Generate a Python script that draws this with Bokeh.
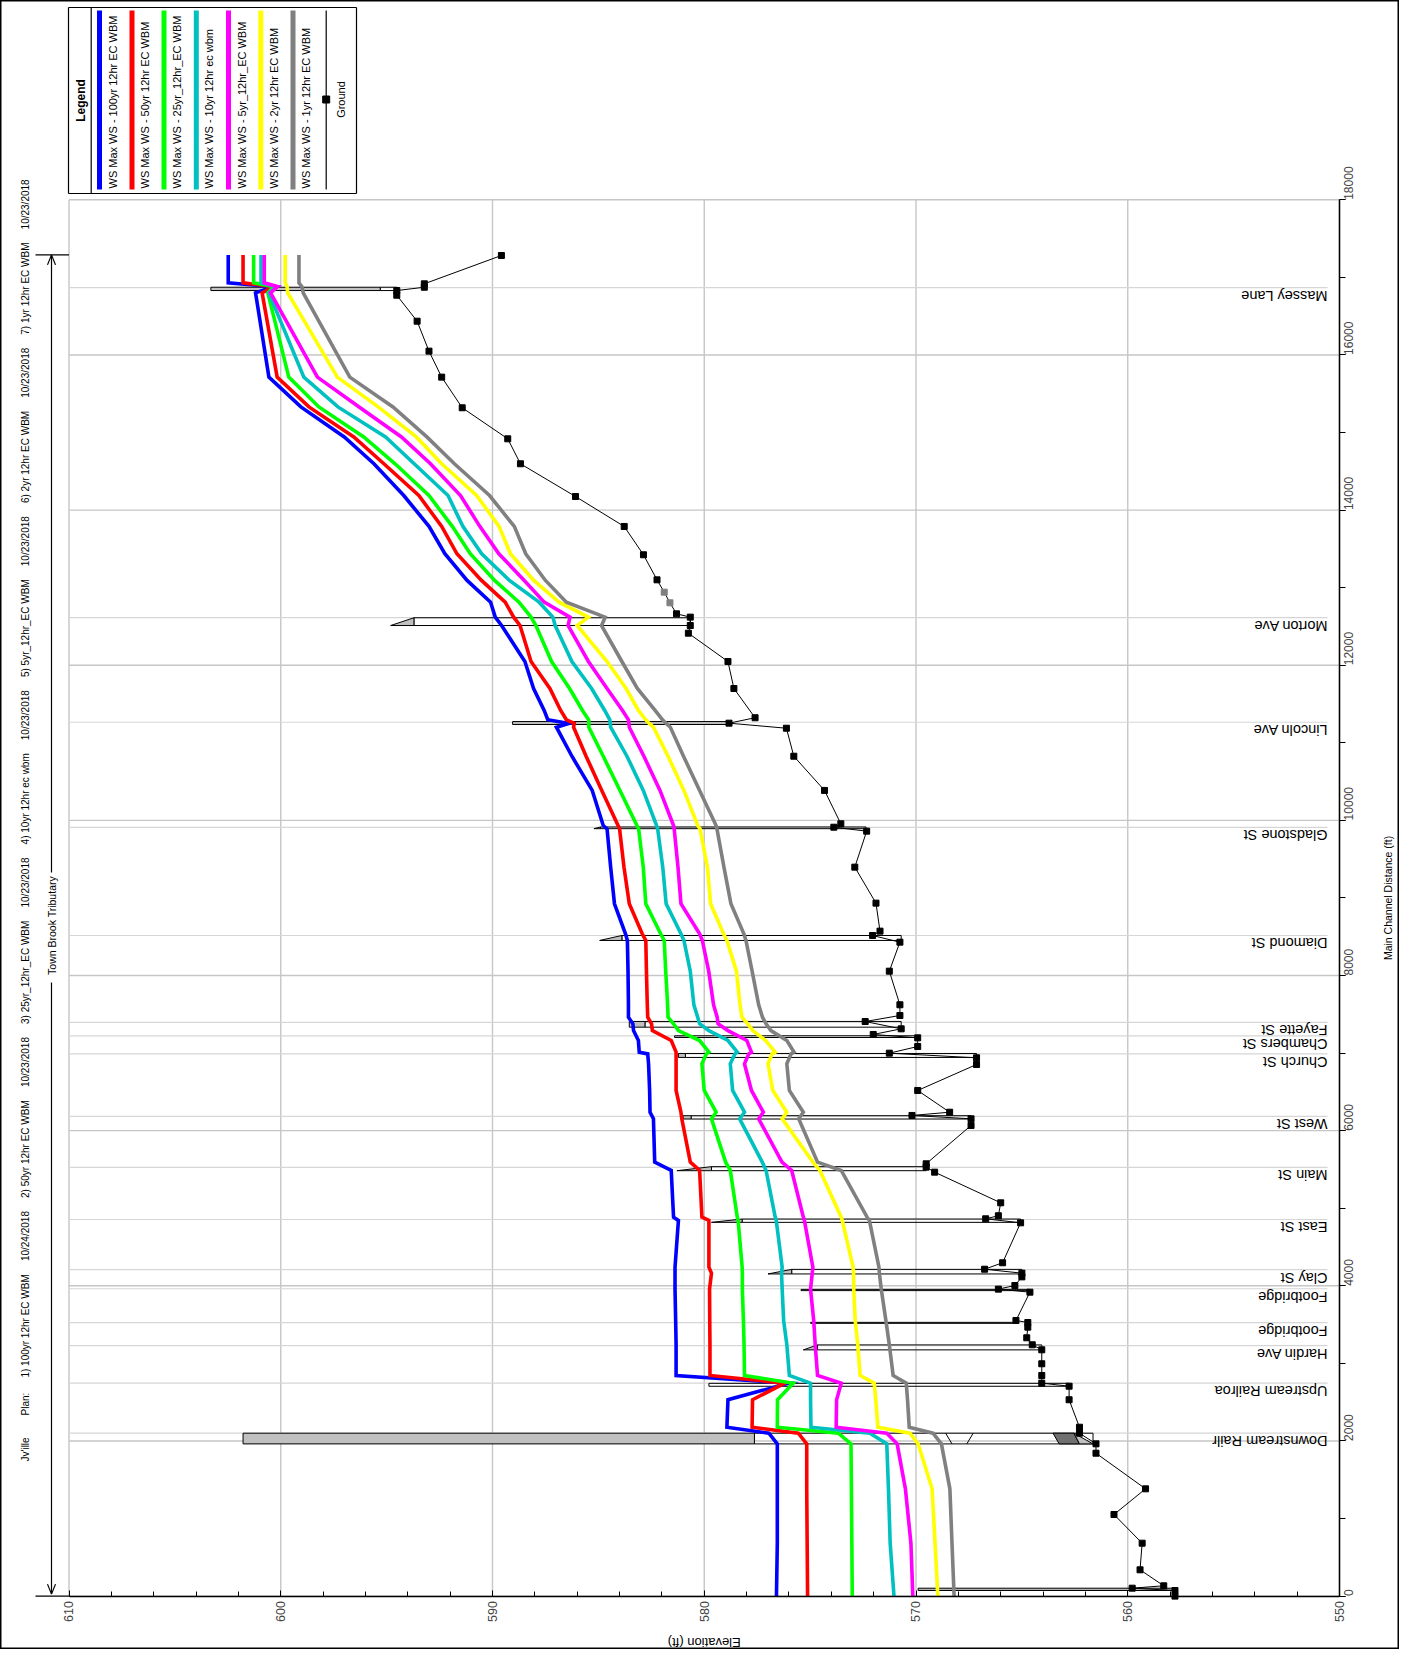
import math
from bokeh.plotting import figure
from bokeh.models import Range1d, FixedTicker, LinearAxis
from bokeh.core.properties import value
from bokeh.embed import file_html
from bokeh.resources import INLINE

FONT = "Liberation Sans"

# ---------------- data ----------------
profile_labels = ["WS  Max WS - 100yr 12hr EC WBM", "WS  Max WS - 50yr 12hr EC WBM",
                  "WS  Max WS - 25yr_12hr_EC WBM", "WS  Max WS - 10yr 12hr ec wbm",
                  "WS  Max WS - 5yr_12hr_EC WBM", "WS  Max WS - 2yr 12hr EC WBM",
                  "WS  Max WS - 1yr 12hr EC WBM"]
profile_colors = ["#0000ff", "#ff0000", "#00ff00", "#00c0c0", "#ff00ff", "#ffff00", "#808080"]

ws_station = [17290, 16930, 16880, 16800, 15714, 15330, 14943, 14597, 14188, 13790, 13437, 13093,
              12813, 12620, 12512, 12048, 11700, 11417, 11297, 11250, 11201, 10827, 10386, 9934,
              9891, 9397, 8925, 8538, 8452, 8056, 7623, 7463, 7378, 7290, 7162, 7012, 6990, 6862,
              6518, 6238, 6153, 5594, 5487, 4885, 4842, 4240, 4163, 3957, 3550, 3240, 2844, 2745,
              2531, 2177, 2100, 1963, 1383, 682, 0]
ws_100yr = [602.48, 602.48, 600.35, 601.19, 600.56, 599.05, 597.00, 595.60, 594.19, 593.00, 592.25, 591.20,
            590.09, 589.87, 589.57, 588.47, 588.06, 587.56, 587.39, 586.40, 586.98, 586.25, 585.29, 584.77,
            584.59, 584.42, 584.24, 583.72, 583.63, 583.60, 583.58, 583.58, 583.37, 583.34, 583.11, 583.07, 582.67, 582.63,
            582.58, 582.56, 582.40, 582.34, 581.56, 581.45, 581.22, 581.38, 581.38, 581.38, 581.35, 581.33, 581.33, 576.00,
            578.88, 578.93, 576.95, 576.55, 576.55, 576.55, 576.59]
ws_50yr = [601.78, 601.78, 600.35, 600.88, 600.17, 598.67, 596.55, 595.13, 593.48, 592.40, 591.68, 590.52,
           589.40, 589.00, 588.70, 588.18, 587.29, 586.78, 586.51, 586.14, 586.17, 585.58, 584.84, 584.07,
           584.00, 583.79, 583.54, 582.93, 582.76, 582.73, 582.69, 582.67, 582.49, 582.45, 581.56, 581.33, 581.33, 581.33,
           581.33, 581.10, 581.06, 580.66, 580.22, 580.11, 579.78, 579.78, 579.66, 579.75, 579.74, 579.73, 579.73, 576.20,
           577.72, 577.74, 575.56, 575.16, 575.16, 575.14, 575.12]
ws_25yr = [601.28, 601.28, 600.30, 600.61, 599.62, 598.20, 596.08, 594.60, 593.00, 591.90, 591.05, 589.90,
           588.75, 588.18, 587.95, 587.21, 586.36, 585.75, 585.46, 585.45, 585.45, 584.77, 583.98, 583.18,
           583.10, 582.88, 582.76, 582.06, 581.89, 581.82, 581.73, 581.71, 581.45, 581.22, 580.22, 579.78, 579.90, 580.11,
           580.00, 579.44, 579.66, 578.99, 578.77, 578.44, 578.40, 578.21, 578.20, 578.20, 578.15, 578.12, 578.10, 575.80,
           576.54, 576.55, 573.67, 573.07, 573.05, 573.03, 573.01]
ws_10yr = [600.93, 600.93, 600.20, 600.56, 598.91, 597.30, 595.05, 593.70, 592.10, 591.40, 590.51, 589.20,
           587.80, 587.15, 587.04, 586.25, 585.32, 584.70, 584.46, 584.44, 584.42, 583.65, 582.88, 582.25,
           582.20, 581.96, 581.80, 581.10, 580.96, 580.66, 580.49, 580.31, 580.22, 579.78, 578.88, 578.44, 578.55, 578.77,
           578.66, 578.10, 578.33, 577.26, 577.08, 576.65, 576.60, 576.32, 576.35, 576.32, 576.25, 576.10, 575.98, 574.98,
           574.98, 574.96, 572.18, 571.38, 571.30, 571.22, 571.04]
ws_5yr = [600.78, 600.78, 600.15, 600.48, 598.27, 596.30, 594.30, 592.93, 591.51, 590.60, 589.70, 588.50,
          587.56, 586.34, 586.43, 585.47, 584.59, 583.86, 583.58, 583.56, 583.54, 582.85, 582.09, 581.45,
          581.42, 581.24, 581.10, 580.22, 580.09, 579.79, 579.56, 579.39, 579.35, 578.88, 577.99, 577.77, 577.90, 578.10,
          577.77, 577.21, 577.43, 576.33, 575.87, 575.32, 575.27, 574.87, 574.90, 574.98, 574.83, 574.76, 574.65, 573.53,
          573.75, 573.77, 571.38, 570.89, 570.50, 570.24, 570.15]
ws_2yr = [599.79, 599.79, 599.70, 599.67, 597.33, 595.40, 593.60, 592.40, 590.75, 589.69, 589.15, 588.05,
          586.86, 585.47, 586.00, 584.59, 583.69, 583.11, 582.76, 582.60, 582.40, 581.71, 580.96, 580.31,
          580.20, 579.85, 579.70, 579.09, 578.93, 578.48, 578.31, 578.22, 577.95, 577.70, 577.10, 576.65, 576.80, 576.99,
          576.76, 576.10, 576.32, 574.87, 574.54, 573.53, 573.48, 572.97, 572.95, 572.94, 572.87, 572.75, 572.64, 571.97,
          571.90, 571.80, 570.29, 569.90, 569.24, 569.10, 568.97]
ws_1yr = [599.14, 599.14, 599.00, 598.94, 596.74, 594.70, 593.10, 591.80, 590.14, 588.97, 588.43, 587.50,
          586.51, 584.68, 584.85, 583.89, 583.16, 582.32, 581.97, 581.80, 581.60, 580.98, 580.22, 579.44,
          579.40, 579.07, 578.74, 578.13, 578.03, 577.74, 577.43, 577.25, 577.08, 576.85, 576.10, 575.76, 575.90, 576.10,
          575.98, 575.32, 575.54, 574.65, 573.53, 572.31, 572.20, 571.75, 571.73, 571.64, 571.42, 571.26, 571.08, 570.46,
          570.40, 570.32, 569.20, 568.80, 568.40, 568.30, 568.20]
ws_profiles = [ws_100yr, ws_50yr, ws_25yr, ws_10yr, ws_5yr, ws_2yr, ws_1yr]

ground_station = [17282, 16917, 16873, 16830, 16770, 16435, 16049, 15714, 15319, 14919, 14597, 14175,
                  13789, 13424, 13101, 12942, 12805, 12663, 12620, 12512, 12413, 12048, 11700, 11323,
                  11253, 11188, 10827, 10386, 9956, 9912, 9861, 9397, 8933, 8572, 8516, 8430, 8056,
                  7623, 7485, 7407, 7313, 7240, 7197, 7085, 6999, 6939, 6853, 6518, 6238, 6196, 6153,
                  6067, 5573, 5530, 5465, 5070, 4903, 4864, 4812, 4297, 4214, 4163, 4115, 4004, 3957,
                  3918, 3553, 3527, 3467, 3330, 3240, 3175, 2995, 2844, 2745, 2706, 2531, 2177, 2100,
                  1963, 1842, 1383, 1052, 682, 339, 133, 102, 72, 0]
ground_elev = [589.58, 593.22, 593.22, 594.52, 594.52, 593.56, 593.00, 592.40, 591.43, 589.28, 588.68, 586.08,
               583.78, 582.87, 582.23, 581.89, 581.62, 581.31, 580.66, 580.66, 580.75, 578.88, 578.60, 577.60,
               578.83, 576.12, 575.77, 574.32, 573.55, 573.88, 572.33, 572.89, 571.89, 571.70, 572.05, 570.76, 571.26,
               570.76, 570.76, 572.40, 570.70, 572.02, 569.92, 569.92, 571.26, 567.14, 567.14, 569.92, 568.41, 570.19, 567.40,
               567.40, 569.52, 569.52, 569.12, 566.00, 566.11, 566.71, 565.06, 565.91, 566.76, 565.00, 565.00, 565.33, 566.11,
               564.62, 565.28, 564.72, 564.72, 564.77, 564.51, 564.06, 564.06, 564.06, 564.06, 562.77, 562.77, 562.28, 562.28,
               561.50, 561.50, 559.16, 560.65, 559.32, 559.42, 558.30, 559.79, 557.77, 557.77]
ground_grey_points = [12942, 12805]

bridge_names = ["Massey Lane", "Morton Ave", "Lincoln Ave", "Gladstone St", "Diamond St", "Fayette St",
                "Chambers St", "Church St", "West St", "Main St", "East St", "Clay St", "Footbridge",
                "Footbridge", "Hardin Ave", "Upstream Railroa", "Downstream Railr"]
bridge_label_station = [16868, 12613, 11265, 9910, 8516, 7397, 7223, 6990, 6185, 5527, 4855, 4208,
                        3962, 3525, 3230, 2745, 2100]
bridge_up = [16873, 12612, 11274, 9915, 8516, 7408, 7223, 6995, 6193, 5536, 4861, 4212, 3954, 3529, 3238, 2743, 2100]
bridge_dn = [16830, 12512, 11236, 9893, 8452, 7334, 7201, 6944, 6150, 5484, 4818, 4153, 3938, 3516, 3174, 2705, 1962]
bridge_high = [603.30, 594.81, 589.05, 585.21, 584.94, 583.54, 581.40, 581.22, 581.00, 581.29, 579.66, 576.99,
               575.43, 574.98, 575.32, 579.78, 601.78]
bridge_low = [595.30, 593.71, 578.83, 584.90, 583.89, 582.80, 580.50, 580.89, 580.62, 579.66, 578.21, 575.87,
              575.43, 574.98, 574.65, 579.78, 577.63]
bridge_end = [594.50, 580.66, 578.83, 572.36, 570.70, 570.70, 569.92, 567.14, 567.40, 569.52, 565.06, 565.00,
              564.62, 565.28, 564.06, 562.77, 561.64]
bridge_deck_shape = ["rect", "tri", "rect", "tri", "tri", "rect", "rect", "rect", "rect", "tri", "tri", "tri",
                     "rect", "rect", "tri", "rect", "rect"]

header_items = ["Jv'ille", "Plan:", "1) 100yr 12hr EC WBM", "10/24/2018", "2) 50yr 12hr EC WBM", "10/23/2018",
                "3) 25yr_12hr_EC WBM", "10/23/2018", "4) 10yr 12hr ec wbm", "10/23/2018",
                "5) 5yr_12hr_EC WBM", "10/23/2018", "6) 2yr 12hr EC WBM", "10/23/2018",
                "7) 1yr 12hr EC WBM", "10/23/2018"]
reach_name = "Town Brook Tributary"
reach_top_station = 17290

elev_ticks = list(range(550, 611, 10))
elev_minor = list(range(550, 611, 2))
dist_ticks = list(range(0, 18001, 2000))
dist_minor = list(range(0, 18001, 1000))

# ---------------- layout (page pixels of the profile area) ----------------
W, H = 1399, 1649
PX610, PX550 = 68.5, 1339.0
PY18000, PY0 = 199.3, 1595.6
SX = (PX550 - PX610) / 60.0
SY = (PY0 - PY18000) / 18000.0


def E(px):
    return 610 - (px - PX610) / SX


def D(py):
    return (PY0 - py) / SY


p = figure(width=W, height=H, x_range=Range1d(E(0), E(W)), y_range=Range1d(D(H), D(0)),
           output_backend="svg", toolbar_location=None, x_axis_location=None, y_axis_location=None,
           min_border=0, min_border_left=0, min_border_right=0, min_border_top=0, min_border_bottom=0)
p.outline_line_color = "black"
p.outline_line_width = 2
p.background_fill_color = "white"
p.border_fill_color = "white"
p.grid.visible = False

xa = LinearAxis(fixed_location=0, bounds=(550, 610),
                ticker=FixedTicker(ticks=elev_ticks, minor_ticks=elev_minor))
xa.major_label_orientation = math.pi / 2
xa.major_tick_in, xa.major_tick_out = 6, 0
xa.minor_tick_in, xa.minor_tick_out = 5, 0
xa.major_label_standoff = 5
xa.major_label_text_font = FONT
xa.major_label_text_font_size = "12.5px"
xa.axis_line_width = 1.5
p.add_layout(xa, "below")

ya = LinearAxis(fixed_location=550, bounds=(0, 18000),
                ticker=FixedTicker(ticks=dist_ticks, minor_ticks=dist_minor))
ya.major_label_orientation = math.pi / 2
ya.major_tick_in, ya.major_tick_out = 0, 6
ya.minor_tick_in, ya.minor_tick_out = 0, 6
ya.major_label_standoff = 3
ya.major_label_text_font = FONT
ya.major_label_text_font_size = "12px"
ya.axis_line_width = 1.5
p.add_layout(ya, "right")

# grid
p.segment(x0=elev_ticks, y0=[0] * len(elev_ticks), x1=elev_ticks, y1=[18000] * len(elev_ticks),
          line_color="#c6c6c6", line_width=1.4)
p.segment(x0=[610] * len(dist_ticks), y0=dist_ticks, x1=[550] * len(dist_ticks), y1=dist_ticks,
          line_color="#c6c6c6", line_width=1.4)

# bridge station lines + labels
lab_x = E(1327)
nb = len(bridge_label_station)
p.segment(x0=[610] * nb, y0=bridge_label_station, x1=[lab_x] * nb, y1=bridge_label_station,
          line_color="#d6d6d6", line_width=1.2)
p.text(x=[lab_x] * nb, y=bridge_label_station, text=bridge_names, angle=math.pi,
       text_align="left", text_baseline="bottom", text_font=value(FONT), text_font_size="14.5px",
       text_color="black")

# bridge decks
deck_xs, deck_ys, open_xs, open_ys = [], [], [], []
for hi, lo, en, up, dn, shp in zip(bridge_high, bridge_low, bridge_end, bridge_up, bridge_dn, bridge_deck_shape):
    if hi != lo:
        if shp == "tri":
            deck_xs.append([hi, lo, lo])
            deck_ys.append([dn, dn, up])
        else:
            deck_xs.append([hi, lo, lo, hi])
            deck_ys.append([up, up, dn, dn])
    if lo != en:
        open_xs.append([lo, en, en, lo])
        open_ys.append([up, up, dn, dn])
p.patches(open_xs, open_ys, fill_color=None, line_color="black", line_width=1)
p.patches(deck_xs, deck_ys, fill_color="#c0c0c0", line_color="black", line_width=1)

p.segment(x0=[568.6, 567.3], y0=[2100, 2100], x1=[568.3, 567.6], y1=[1962, 1962], line_color="black", line_width=1)
p.patch([563.53, 562.54, 562.28, 563.24], [2100, 2100, 1962, 1962], fill_color="#707070", line_color="black", line_width=1)
p.patch([562.54, 561.64, 562.28], [2100, 1962, 1962], fill_color="#c0c0c0", line_color="black", line_width=1)
p.patch([569.9, 557.8, 557.8, 569.9], [102, 102, 72, 72], fill_color="#b0b0b0", line_color="black", line_width=1)

# water surface profiles
for vals, col in zip(ws_profiles, profile_colors):
    p.line(x=vals, y=ws_station, line_color=col, line_width=3.6, line_join="miter")

# ground
g_cols = ["#808080" if s in ground_grey_points else "black" for s in ground_station]
p.line(x=ground_elev, y=ground_station, line_color="black", line_width=1)
p.scatter(x=ground_elev, y=ground_station, marker="square", size=6, fill_color=g_cols, line_color=g_cols)


# ---------------- page furniture, positioned in page pixels ----------------
def segs(pts, color="black", width=1.0):
    p.segment(x0=[E(a[0]) for a in pts], y0=[D(a[1]) for a in pts],
              x1=[E(a[2]) for a in pts], y1=[D(a[3]) for a in pts],
              line_color=color, line_width=width)


def txt(x, y, s, size="10px", angle=math.pi / 2, align="left", baseline="middle", style="normal", font=FONT):
    p.text(x=[E(x)], y=[D(y)], text=[s], angle=angle, text_align=align, text_baseline=baseline,
           text_font=value(font), text_font_size=size, text_font_style=style, text_color="black")


# header (reads bottom-to-top)
gaps = [22, 15] + [13.1] * 13
lens = [24.1, 22.8, 103.4, 50, 97.8, 50, 103.4, 50, 91.1, 50, 97.8, 50, 92.2, 50, 92.2, 50]
y = 1461.0
for i, s in enumerate(header_items):
    txt(25, y, s, size="10px")
    if i < len(gaps):
        y -= lens[i] + gaps[i]

# reach bar with arrows
ytop = PY0 - reach_top_station * SY
segs([(35, ytop, PX610, ytop), (35, PY0, PX610, PY0)], width=1.2)
segs([(51, 872, 51, ytop), (51, 982, 51, PY0 - 2)], width=1.2)
segs([(51, ytop, 47, ytop + 10), (51, ytop, 55, ytop + 10),
      (51, PY0 - 2, 47, PY0 - 12), (51, PY0 - 2, 55, PY0 - 12)], width=1.2)
txt(51, 925, reach_name, size="10.5px", align="center")

# legend
segs([(68, 7, 356, 7), (356, 7, 356, 193), (356, 193, 68, 193), (68, 193, 68, 7), (90.7, 7, 90.7, 193)], width=1.2)
txt(80, 100, "Legend", size="12px", align="center", style="bold")
bar_x = [99, 131.5, 163.5, 195.8, 228, 260.3, 292.5]
p.segment(x0=[E(b) for b in bar_x], y0=[D(189)] * 7, x1=[E(b) for b in bar_x], y1=[D(10)] * 7,
          line_color=profile_colors, line_width=5)
for bx, lab in zip(bar_x, profile_labels):
    txt(bx + 13, 188, lab, size="11px")
segs([(325.7, 189, 325.7, 10)], width=1.2)
p.scatter(x=[E(325.7)], y=[D(99)], marker="square", size=7, color="black")
txt(340, 99, "Ground", size="11px", align="center")

# axis titles
txt(1387, (PY0 + PY18000) / 2, "Main Channel Distance (ft)", size="10.5px", align="center")
txt((PX610 + PX550) / 2, 1642, "Elevation (ft)", size="13px", angle=math.pi, align="center")

open("out.html", "w").write(file_html(p, INLINE))
